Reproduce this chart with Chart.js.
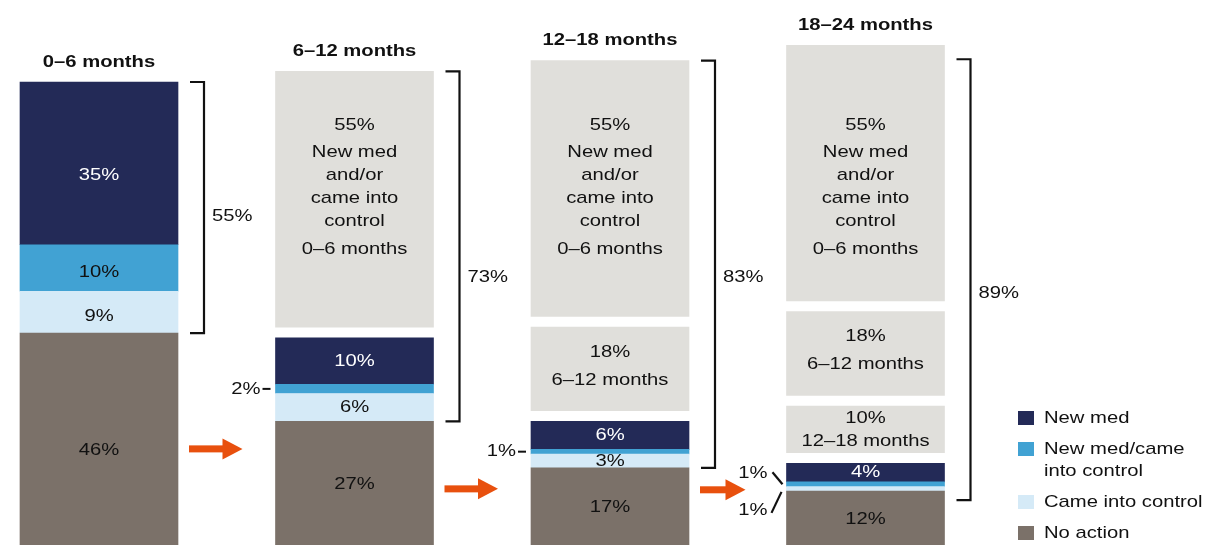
<!DOCTYPE html>
<html>
<head>
<meta charset="utf-8">
<script src="https://cdn.jsdelivr.net/npm/chart.js@4.4.0/dist/chart.umd.min.js"></script>
<style>
  html, body { margin: 0; padding: 0; background: #ffffff; }
  #wrap { position: relative; width: 1206px; height: 545px; overflow: hidden; }
  canvas { display: block; }
</style>
</head>
<body>
<div id="wrap"><canvas id="c" width="1206" height="545"></canvas></div>
<script>
// ---------------- DATA ----------------
const categories = ['0–6 months', '6–12 months', '12–18 months', '18–24 months'];
const newMed = [35, 10, 6, 4];
const newMedCameIntoControl = [10, 2, 1, 1];
const cameIntoControl = [9, 6, 3, 1];
const noAction = [46, 27, 17, 12];
const prior0to6 = [null, 55, 55, 55];
const prior6to12 = [null, null, 18, 18];
const prior12to18 = [null, null, null, 10];
const bracketTotals = [55, 73, 83, 89];
const seriesNames = ['New med', 'New med/came into control', 'Came into control', 'No action'];
const priorLabels = {
  p0: ['New med', 'and/or', 'came into', 'control', '0–6 months'],
  p6: ['6–12 months'],
  p12: ['12–18 months']
};

// ---------------- STYLE ----------------
const COLORS = {
  newMed: '#232a57',
  newMedCame: '#41a2d3',
  came: '#d5eaf7',
  noAction: '#7b7169',
  prior: '#e0dfdb',
  text: '#111111',
  arrow: '#e8500e'
};
const GAP = 2.3;        // visual gap between stacked blocks (in % units)
const SX = 1.19;        // horizontal text stretch of the reference
const FONT = '"Liberation Sans", Arial, Helvetica, sans-serif';

// ---------------- BUILD FLOATING RANGES ----------------
const stackSeries = [noAction, cameIntoControl, newMedCameIntoControl, newMed];
const priorSeries = [prior12to18, prior6to12, prior0to6];
function buildRanges() {
  const stack = stackSeries.map(() => []);
  const prior = priorSeries.map(() => []);
  categories.forEach((c, i) => {
    let base = 0;
    stackSeries.forEach((arr, k) => { stack[k].push([base, base + arr[i]]); base += arr[i]; });
    priorSeries.forEach((arr, k) => {
      if (arr[i] == null) { prior[k].push(null); return; }
      base += GAP;
      prior[k].push([base, base + arr[i]]);
      base += arr[i];
    });
  });
  return { stack, prior };
}
const R = buildRanges();

const stackColors = [COLORS.noAction, COLORS.came, COLORS.newMedCame, COLORS.newMed];
const datasets = [];
R.stack.forEach((d, k) => datasets.push({ label: seriesNames[3 - k], data: d, backgroundColor: stackColors[k] }));
R.prior.forEach((d, k) => datasets.push({ label: 'prior' + k, data: d, backgroundColor: COLORS.prior }));

// ---------------- ANNOTATION PLUGIN ----------------
function txt(ctx, s, x, y, opts) {
  ctx.save();
  ctx.font = (opts.bold ? 'bold ' : '') + (opts.size || 17) + 'px ' + FONT;
  ctx.fillStyle = opts.color || COLORS.text;
  ctx.textAlign = opts.align || 'center';
  ctx.textBaseline = 'middle';
  ctx.translate(x, y);
  ctx.scale(SX, 1);
  ctx.fillText(s, 0, 0);
  ctx.restore();
}
function line(ctx, pts, w) {
  ctx.save();
  ctx.strokeStyle = '#111';
  ctx.lineWidth = w || 2;
  ctx.lineCap = 'butt';
  ctx.lineJoin = 'miter';
  ctx.beginPath();
  pts.forEach((p, j) => j ? ctx.lineTo(p[0], p[1]) : ctx.moveTo(p[0], p[1]));
  ctx.stroke();
  ctx.restore();
}

const annotations = {
  id: 'annotations',
  afterDatasetsDraw(chart) {
    const ctx = chart.ctx;
    const ys = chart.scales.y;
    const P = v => ys.getPixelForValue(v);
    const meta0 = chart.getDatasetMeta(0);
    const bars = categories.map((c, i) => {
      const el = meta0.data[i];
      const w = el.width;
      let top = 0;
      R.stack.forEach(d => { if (d[i]) top = Math.max(top, d[i][1]); });
      R.prior.forEach(d => { if (d[i]) top = Math.max(top, d[i][1]); });
      return { x: el.x, left: el.x - w / 2, right: el.x + w / 2, top };
    });

    // Titles
    bars.forEach((b, i) => txt(ctx, categories[i], b.x, P(b.top) - 20, { bold: true }));

    // Stack segment labels and callouts
    const firstBarDy = 8; // labels of the first column sit a little low in the reference
    bars.forEach((b, i) => {
      const tiny = [];
      R.stack.forEach((d, k) => {
        const v = stackSeries[k][i];
        const c = P((d[i][0] + d[i][1]) / 2) + (i === 0 ? (k === 3 ? 12 : k === 0 ? 10 : 4) : 0);
        if (v >= 3) {
          txt(ctx, v + '%', b.x, c, { color: k === 3 ? '#ffffff' : COLORS.text });
        } else {
          tiny.push({ v, c, k });
        }
      });
      if (tiny.length === 1) {
        const t = tiny[0];
        txt(ctx, t.v + '%', b.left - 15, t.c, { align: 'right' });
        line(ctx, [[b.left - 13, t.c], [b.left - 5, t.c]], 2);
      } else if (tiny.length === 2) {
        const lower = tiny[0], upper = tiny[1];
        txt(ctx, upper.v + '%', b.left - 19, upper.c - 11, { align: 'right' });
        line(ctx, [[b.left - 14, upper.c - 12], [b.left - 4, upper.c]], 2.2);
        txt(ctx, lower.v + '%', b.left - 19, lower.c + 21, { align: 'right' });
        line(ctx, [[b.left - 15, lower.c + 24], [b.left - 5, lower.c + 3]], 2.2);
      }
    });

    // Prior cohort box labels
    const priorText = [priorLabels.p12, priorLabels.p6, priorLabels.p0];
    const priorVals = [prior12to18, prior6to12, prior0to6];
    const priorOffsets = [[-11, 12], [-17, 11], [-62, -35, -12, 11, 34, 62]];
    R.prior.forEach((d, k) => {
      const present = bars.map((b, i) => i).filter(i => d[i]);
      const centers = present.map(i => P((d[i][0] + d[i][1]) / 2));
      const mean = centers.reduce((a, c) => a + c, 0) / (centers.length || 1);
      present.forEach((i, j) => {
        const b = bars[i];
        const c = k === 2 ? mean : centers[j];
        const lines = [priorVals[k][i] + '%'].concat(priorText[k]);
        lines.forEach((s, n) => txt(ctx, s, b.x, c + priorOffsets[k][n], {}));
      });
    });

    // Brackets
    const bracketInset = [[0, 0], [0, 0], [0, 0], [14, 9]];
    const bracketLabelDy = [9, 31, 13, 14];
    bars.forEach((b, i) => {
      const t = P(b.top) + bracketInset[i][0];
      const bt = P(noAction[i]) + bracketInset[i][1];
      const vx = b.right + 26;
      line(ctx, [[b.right + 12, t], [vx, t], [vx, bt], [b.right + 12, bt]], 2.2);
      txt(ctx, bracketTotals[i] + '%', vx + 8, (t + bt) / 2 + bracketLabelDy[i], { align: 'left' });
    });

    // Arrows between bars
    const arrowLevels = [21.1, 12.5, 12.3];
    const arrowEndGap = [33, 33, 41];
    for (let i = 0; i < bars.length - 1; i++) {
      const x0 = bars[i].right + 11;
      const x1 = bars[i + 1].left - arrowEndGap[i];
      const y = P(arrowLevels[i]);
      ctx.save();
      ctx.fillStyle = COLORS.arrow;
      ctx.fillRect(x0, y - 3.5, x1 - 19 - x0, 7);
      ctx.beginPath();
      ctx.moveTo(x1 - 20, y - 10.5);
      ctx.lineTo(x1, y);
      ctx.lineTo(x1 - 20, y + 10.5);
      ctx.closePath();
      ctx.fill();
      ctx.restore();
    }

    // Legend
    const legendItems = [
      { color: COLORS.newMed, lines: ['New med'] },
      { color: COLORS.newMedCame, lines: ['New med/came', 'into control'] },
      { color: COLORS.came, lines: ['Came into control'] },
      { color: COLORS.noAction, lines: ['No action'] }
    ];
    let ly = 418;
    legendItems.forEach(it => {
      ctx.fillStyle = it.color;
      ctx.fillRect(1018, ly - 7, 16, 14);
      it.lines.forEach((s, n) => txt(ctx, s, 1044, ly + n * 22, { align: 'left' }));
      ly += 31 + (it.lines.length - 1) * 22;
    });
  }
};

new Chart(document.getElementById('c'), {
  type: 'bar',
  data: { labels: categories, datasets },
  options: {
    responsive: false,
    animation: false,
    layout: { padding: { left: 99, right: 340.5, top: 0, bottom: 0 } },
    datasets: { bar: { grouped: false, barThickness: 158, clip: false, borderWidth: 0 } },
    scales: {
      x: { type: 'category', offset: false, display: false, grid: { display: false } },
      y: { min: 0.43, max: 117.63, display: false, grid: { display: false } }
    },
    plugins: { legend: { display: false }, tooltip: { enabled: false } }
  },
  plugins: [annotations]
});
</script>
</body>
</html>
